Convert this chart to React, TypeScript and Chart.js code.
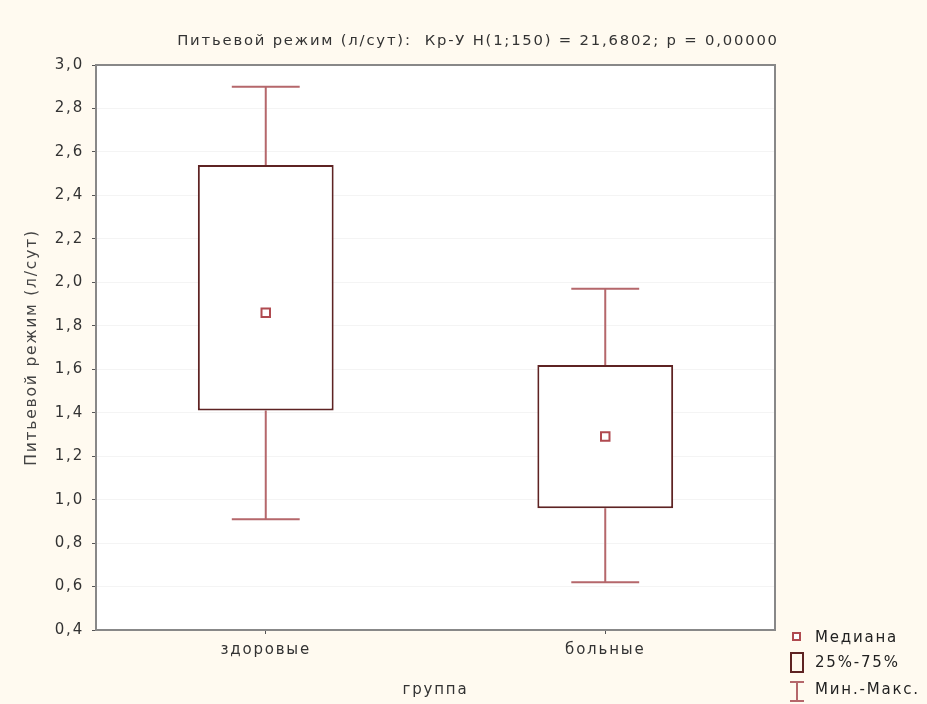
import React, { useEffect, useRef } from "react";
import { Chart, registerables } from "chart.js";

Chart.register(...registerables);

const categories = ["здоровые", "больные"];
const minValues = [0.91, 0.62];
const q1Values = [1.41, 0.96];
const medianValues = [1.86, 1.29];
const q3Values = [2.54, 1.62];
const maxValues = [2.9, 1.97];

const chartTitle = "Питьевой режим (л/сут):  Кр-У H(1;150) = 21,6802; p = 0,00000";
const yTitle = "Питьевой режим (л/сут)";
const xTitle = "группа";
const legendLabels = ["Медиана", "25%-75%", "Мин.-Макс."];

const FONT = "'DejaVu Sans', sans-serif";
const WHISKER = "#b5676b";
const BOX = "#5e2323";
const MEDIAN = "#b04a50";
const SPACING = "1.8px";

const spacingPlugin = {
  id: "spacingPlugin",
  beforeUpdate(chart: any) {
    chart.ctx.letterSpacing = SPACING;
  },
  beforeDraw(chart: any) {
    chart.ctx.letterSpacing = SPACING;
  },
};

const bgPlugin = {
  id: "bgPlugin",
  beforeDraw(chart: any) {
    const { ctx, chartArea } = chart;
    ctx.save();
    ctx.fillStyle = "#fffaf0";
    ctx.fillRect(0, 0, chart.width, chart.height);
    ctx.fillStyle = "#ffffff";
    ctx.fillRect(chartArea.left, chartArea.top, chartArea.right - chartArea.left, chartArea.bottom - chartArea.top);
    ctx.restore();
  },
};

const whiskerPlugin = {
  id: "whiskerPlugin",
  beforeDatasetsDraw(chart: any) {
    const { ctx } = chart;
    const x = chart.scales.x;
    const y = chart.scales.y;
    const meta = chart.getDatasetMeta(0);
    ctx.save();
    ctx.strokeStyle = WHISKER;
    ctx.lineWidth = 2;
    categories.forEach((_, i) => {
      const cx = x.getPixelForValue(i);
      const bw = meta.data[i] ? meta.data[i].width : 135;
      const cap = bw / 4;
      const yMax = y.getPixelForValue(maxValues[i]);
      const yMin = y.getPixelForValue(minValues[i]);
      const yQ3 = y.getPixelForValue(q3Values[i]);
      const yQ1 = y.getPixelForValue(q1Values[i]);
      ctx.beginPath();
      ctx.moveTo(cx, yQ3);
      ctx.lineTo(cx, yMax);
      ctx.moveTo(cx - cap, yMax);
      ctx.lineTo(cx + cap, yMax);
      ctx.moveTo(cx, yQ1);
      ctx.lineTo(cx, yMin);
      ctx.moveTo(cx - cap, yMin);
      ctx.lineTo(cx + cap, yMin);
      ctx.stroke();
    });
    ctx.restore();
  },
};

const framePlugin = {
  id: "framePlugin",
  afterDraw(chart: any) {
    const { ctx, chartArea } = chart;
    ctx.save();
    ctx.strokeStyle = "#888888";
    ctx.lineWidth = 2;
    ctx.strokeRect(chartArea.left, chartArea.top, chartArea.right - chartArea.left, chartArea.bottom - chartArea.top);
    // title
    ctx.letterSpacing = SPACING;
    ctx.fillStyle = "#333333";
    ctx.font = `14.8px ${FONT}`;
    ctx.textAlign = "center";
    ctx.textBaseline = "middle";
    ctx.fillText(chartTitle, 478, 41);
    // legend
    const lx = 790;
    ctx.textAlign = "left";
    ctx.font = `15px ${FONT}`;
    // median marker
    ctx.strokeStyle = MEDIAN;
    ctx.lineWidth = 2;
    ctx.fillStyle = "#ffffff";
    ctx.fillRect(lx + 3, 633, 7, 7);
    ctx.strokeRect(lx + 3, 633, 7, 7);
    ctx.fillStyle = "#222222";
    ctx.fillText(legendLabels[0], lx + 25, 638);
    // box icon
    ctx.strokeStyle = BOX;
    ctx.lineWidth = 2;
    ctx.strokeRect(lx + 1, 653, 12, 19);
    ctx.fillText(legendLabels[1], lx + 25, 663);
    // whisker icon
    ctx.strokeStyle = WHISKER;
    ctx.beginPath();
    ctx.moveTo(lx, 682);
    ctx.lineTo(lx + 14, 682);
    ctx.moveTo(lx + 7, 682);
    ctx.lineTo(lx + 7, 701);
    ctx.moveTo(lx, 701);
    ctx.lineTo(lx + 14, 701);
    ctx.stroke();
    ctx.fillText(legendLabels[2], lx + 25, 690);
    ctx.restore();
  },
};

export default function App() {
  const ref = useRef<HTMLCanvasElement>(null);
  useEffect(() => {
    document.body.style.margin = "0";
    document.body.style.overflow = "hidden";
    const chart = new Chart(ref.current as HTMLCanvasElement, {
      type: "bar",
      data: {
        labels: categories,
        datasets: [
          {
            type: "bar",
            label: "25%-75%",
            order: 2,
            data: q1Values.map((v, i) => [v, q3Values[i]]) as any,
            backgroundColor: "#ffffff",
            borderColor: BOX,
            borderWidth: 2,
            borderSkipped: false,
            barPercentage: 0.4,
            categoryPercentage: 1,
          },
          {
            type: "line",
            label: "Медиана",
            order: 1,
            data: medianValues,
            showLine: false,
            pointStyle: "rect",
            pointRadius: 6,
            pointBorderWidth: 2,
            pointBorderColor: MEDIAN,
            pointBackgroundColor: "#ffffff",
          } as any,
        ],
      },
      options: {
        animation: false,
        responsive: false,
        layout: { padding: { top: 65, right: 152, bottom: 0, left: 0 } },
        plugins: { legend: { display: false }, tooltip: { enabled: false }, title: { display: false } },
        scales: {
          x: {
            offset: true,
            grid: { display: true, drawOnChartArea: false, tickLength: 4, tickColor: "#555", offset: false },
            border: { color: "#888888", width: 2 },
            ticks: { color: "#333", font: { family: FONT, size: 15 }, padding: 7 },
            title: { display: true, text: xTitle, color: "#333", font: { family: FONT, size: 15 }, padding: { top: 0, bottom: 5 } },
            afterFit(scale: any) {
              scale.height = 74;
            },
          },
          y: {
            min: 0.4,
            max: 3.0,
            grid: { color: "#f4f4f4", tickLength: 4, tickColor: "#555" },
            border: { color: "#888888", width: 2 },
            ticks: {
              stepSize: 0.2,
              color: "#333",
              font: { family: FONT, size: 15 },
              padding: 8,
              callback: (v: any) => Number(v).toFixed(1).replace(".", ","),
            },
            title: { display: true, text: yTitle, color: "#444", font: { family: FONT, size: 15.5 }, padding: { top: 23, bottom: 0 } },
            afterFit(scale: any) {
              scale.width = 96;
            },
          },
        },
      },
      plugins: [spacingPlugin, bgPlugin, whiskerPlugin, framePlugin],
    });
    return () => chart.destroy();
  }, []);
  return (
    <div style={{ width: 927, height: 704, position: "relative" }}>
      <canvas ref={ref} width={927} height={704} />
    </div>
  );
}
